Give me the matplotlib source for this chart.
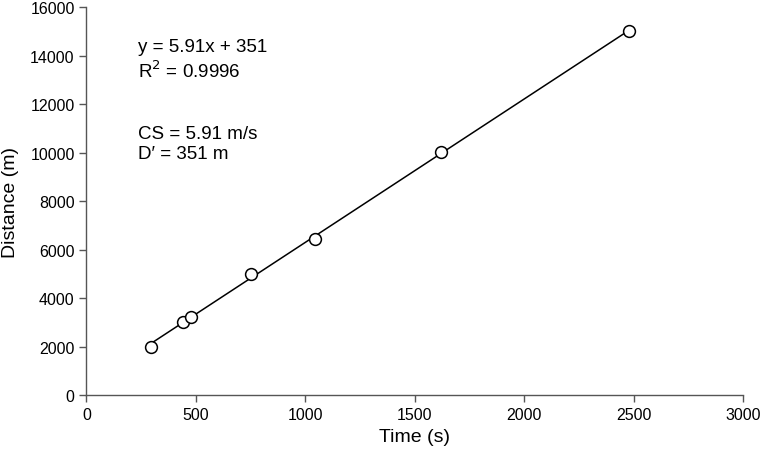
import matplotlib
matplotlib.use('Agg')

import matplotlib.pyplot as plt
import numpy as np

plt.rcParams['font.family'] = ['Liberation Sans', 'DejaVu Sans']

# Trial data: time (s) vs distance (m)
time_s = [295, 440, 477, 751, 1045, 1618, 2479]
distance_m = [2000, 3050, 3250, 5030, 6450, 10030, 15030]

x_ticks = [0, 500, 1000, 1500, 2000, 2500, 3000]
y_ticks = [0, 2000, 4000, 6000, 8000, 10000, 12000, 14000, 16000]

fit_text = "y = 5.91x + 351\nR$^2$ = 0.9996"
cs_text = "CS = 5.91 m/s\nD\u2032 = 351 m"

fig = plt.figure(figsize=(7.62, 4.52), dpi=100)
ax = fig.add_axes([0.1135, 0.1228, 0.862, 0.8585])

# linear fit line across the data range
slope, intercept = np.polyfit(time_s, distance_m, 1)
xs = np.array([min(time_s), max(time_s)])
ax.plot(xs, slope * xs + intercept, color='black', lw=1.1, zorder=2)

ax.plot(time_s, distance_m, 'o', ms=8.5, mfc='white', mec='black', mew=1.1,
        zorder=3)

ax.set_xlim(0, 3000)
ax.set_ylim(0, 16000)
ax.set_xticks(x_ticks)
ax.set_yticks(y_ticks)

for side in ['top', 'right']:
    ax.spines[side].set_visible(False)
for side in ['left', 'bottom']:
    ax.spines[side].set_color('#555555')
    ax.spines[side].set_linewidth(1.0)
ax.tick_params(direction='out', length=5, width=1.0, color='#555555',
               labelsize=11.5, labelcolor='black')

ax.set_xlabel("Time (s)", fontsize=14, labelpad=4)
ax.set_ylabel("Distance (m)", fontsize=14, labelpad=8)

ax.text(0.078, 0.92, fit_text, transform=ax.transAxes, fontsize=13.5,
        va='top', ha='left', linespacing=1.22)
ax.text(0.079, 0.698, cs_text, transform=ax.transAxes, fontsize=13.5,
        va='top', ha='left', linespacing=1.22)

fig.savefig('out.png', dpi=100)
